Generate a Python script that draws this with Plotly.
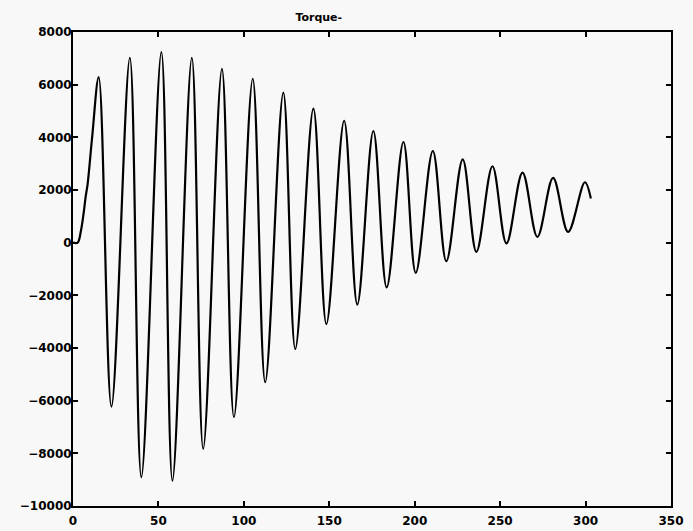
import plotly.graph_objects as go

# Curve points (start segment, then alternating peaks/troughs)
t_start = [0.0, 2.7, 4.7, 6.2, 7.4, 8.6, 11.2]
v_start = [0, 0, 474, 1108, 1738, 2246, 4000]

peak_t = [15.05, 33.27, 51.73, 69.55, 87.18, 105.2, 123.1, 140.7, 158.7,
          175.8, 193.4, 210.6, 228.1, 245.5, 263.1, 281.0, 299.6]
peak_v = [6288, 7023, 7236, 7023, 6600, 6225, 5695, 5088, 4630,
          4240, 3823, 3481, 3166, 2901, 2662, 2457, 2294]

trough_t = [22.5, 40.0, 58.2, 76.2, 94.2, 112.5, 130.1, 148.3, 166.4,
            183.6, 200.6, 218.5, 236.1, 253.7, 271.8, 289.8]
trough_v = [-6227, -8905, -9033, -7831, -6630, -5300, -4039, -3091, -2350,
            -1699, -1145, -702, -349, -30, 220, 410]

t_end = [303.1]
v_end = [1676]

x_ticks = [0, 50, 100, 150, 200, 250, 300, 350]
y_ticks = [-10000, -8000, -6000, -4000, -2000, 0, 2000, 4000, 6000, 8000]
y_ticktext = ["\u221210000", "\u22128000", "\u22126000", "\u22124000", "\u22122000",
              "0", "2000", "4000", "6000", "8000"]

# assemble ordered series
xs = list(t_start)
ys = list(v_start)
for i in range(len(peak_t)):
    xs.append(peak_t[i]); ys.append(peak_v[i])
    if i < len(trough_t):
        xs.append(trough_t[i]); ys.append(trough_v[i])
xs += t_end
ys += v_end

fig = go.Figure()
fig.add_trace(go.Scatter(x=xs, y=ys, mode="lines",
                         line=dict(color="black", width=2.2, shape="spline", smoothing=1.0),
                         showlegend=False, hoverinfo="skip"))

bg = "#f8f8f8"
tick_font = dict(family="DejaVu Sans, sans-serif", size=12, color="black", weight="bold")
axis_common = dict(showgrid=False, zeroline=False, showline=True, linecolor="black",
                   linewidth=2, mirror="ticks", ticks="inside", ticklen=5,
                   tickcolor="black", tickwidth=1.5, tickfont=tick_font,
                   automargin=False)

fig.update_layout(
    width=693, height=531,
    margin=dict(l=73, r=22, t=32, b=25),
    paper_bgcolor=bg, plot_bgcolor=bg,
    title=dict(text="Torque-", x=0.46, xref="container", xanchor="center",
               y=0.975, yanchor="top", automargin=False,
               font=dict(family="DejaVu Sans, sans-serif", size=11,
                         color="black", weight="bold")),
    xaxis=dict(range=[0, 350], tickvals=x_ticks, ticktext=[str(v) for v in x_ticks],
               ticklabelstandoff=3, **axis_common),
    yaxis=dict(range=[-10000, 8000], tickvals=y_ticks, ticktext=y_ticktext,
               ticklabelstandoff=-3, **axis_common),
)

fig.write_html("out.html")
